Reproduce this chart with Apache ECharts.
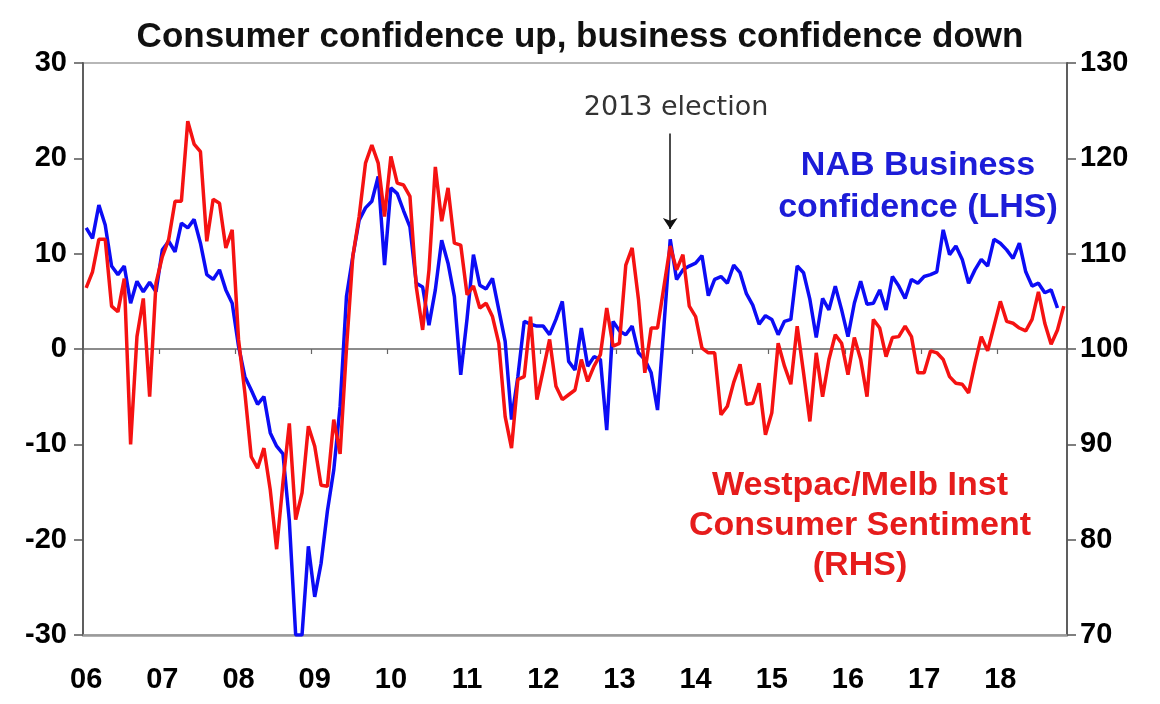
<!DOCTYPE html>
<html>
<head>
<meta charset="utf-8">
<script src="https://cdn.jsdelivr.net/npm/echarts@6/dist/echarts.min.js"></script>
<style>
html,body{margin:0;padding:0;background:#ffffff;}
#chart{width:1160px;height:704px;}
</style>
</head>
<body>
<div id="chart"></div>
<script>
// ---- data (monthly, Jan 2006 onwards) ----
const yearLabels = ['06','07','08','09','10','11','12','13','14','15','16','17','18'];
const firstYear = 2006;
const monthCount = 155; // Jan 2006 .. Nov 2018

// NAB business confidence, net balance (LHS)
const nabBusiness = [
  12.7, 11.6, 15.1, 13.0, 8.7, 7.8, 8.7, 4.8, 7.1, 6.0, 7.0, 6.0,
  10.4, 11.3, 10.2, 13.2, 12.7, 13.6, 11.1, 7.8, 7.3, 8.3, 6.2, 4.8,
  0.3, -2.9, -4.3, -5.8, -5.0, -8.8, -10.2, -11.0, -18.0, -30.0, -30.0, -20.7,
  -26.0, -22.5, -17.0, -12.7, -6.0, 5.5, 9.7, 13.5, 14.8, 15.5, 18.1, 8.8,
  16.9, 16.3, 14.5, 12.8, 6.9, 6.5, 2.5, 6.2, 11.4, 9.0, 5.5, -2.7,
  3.2, 9.9, 6.7, 6.3, 7.4, 4.1, 0.8, -7.4, -2.9, 2.9, 2.6, 2.4,
  2.4, 1.5, 3.1, 5.0, -1.3, -2.2, 2.2, -1.8, -0.8, -1.1, -8.5, 2.9,
  1.9, 1.5, 2.4, -0.4, -1.1, -2.5, -6.4, 2.3, 11.5, 7.3, 8.3, 8.7,
  9.0, 9.8, 5.6, 7.3, 7.6, 6.9, 8.8, 8.0, 5.8, 4.6, 2.6, 3.5,
  3.1, 1.5, 2.9, 3.1, 8.7, 8.0, 5.2, 1.2, 5.3, 4.1, 6.6, 4.1,
  1.3, 4.8, 7.1, 4.7, 4.8, 6.2, 4.1, 7.6, 6.6, 5.3, 7.3, 6.9,
  7.6, 7.8, 8.1, 12.5, 9.9, 10.8, 9.4, 6.9, 8.3, 9.4, 8.7, 11.5,
  11.1, 10.4, 9.5, 11.1, 8.1, 6.6, 6.9, 5.9, 6.2, 4.3
];

// Westpac/Melbourne Institute consumer sentiment index (RHS)
const westpacSentiment = [
  106.4, 108.1, 111.5, 111.5, 104.5, 103.9, 107.4, 90.0, 101.3, 105.3, 95.0, 106.9,
  109.7, 111.5, 115.5, 115.5, 123.9, 121.5, 120.7, 111.3, 115.7, 115.3, 110.6, 112.5,
  101.0, 95.4, 88.7, 87.5, 89.6, 85.2, 79.0, 86.0, 92.2, 82.1, 84.9, 91.9,
  89.8, 85.7, 85.6, 92.6, 89.0, 100.0, 109.7, 113.9, 119.5, 121.4, 119.5, 113.9,
  120.2, 117.4, 117.2, 116.0, 106.5, 102.0, 108.3, 119.1, 113.4, 116.9, 111.1, 110.9,
  105.7, 106.6, 104.3, 104.8, 103.4, 100.6, 92.9, 89.6, 96.8, 97.1, 103.4, 94.7,
  97.8, 101.0, 96.1, 94.7, 95.2, 95.7, 98.9, 96.6, 98.2, 99.4, 104.3, 100.3,
  100.6, 108.8, 110.6, 105.2, 97.5, 102.2, 102.2, 106.5, 110.8, 108.3, 109.9, 104.5,
  103.4, 100.1, 99.6, 99.6, 93.1, 94.0, 96.5, 98.4, 94.2, 94.3, 96.4, 91.0,
  93.3, 100.6, 98.2, 96.3, 102.4, 97.5, 92.4, 99.6, 95.0, 98.9, 101.5, 100.6,
  97.3, 101.2, 98.9, 95.0, 103.1, 102.2, 99.2, 101.2, 101.3, 102.4, 101.3, 97.5,
  97.5, 99.8, 99.6, 98.9, 97.1, 96.4, 96.3, 95.4, 98.5, 101.3, 99.8, 102.4,
  105.0, 102.9, 102.7, 102.2, 101.9, 103.1, 106.0, 102.7, 100.5, 102.0, 104.5
];

const electionMonth = '2013-09';
const chartTitle = 'Consumer confidence up, business confidence down';

// ---- build categories ----
const months = [];
for (let i = 0; i < monthCount; i++) {
  const y = firstYear + Math.floor(i / 12);
  const m = (i % 12) + 1;
  months.push(y + '-' + (m < 10 ? '0' + m : '' + m));
}
const isJan = (i) => i % 12 === 0;

const SANS = "'Liberation Sans',Arial,sans-serif";
const BLUE = '#0c0cf5';
const RED = '#f51212';

const chart = echarts.init(document.getElementById('chart'), null, {renderer: 'canvas'});

const option = {
  animation: false,
  backgroundColor: '#ffffff',
  title: {
    text: chartTitle,
    left: 'center',
    top: 15,
    textStyle: {fontFamily: SANS, fontSize: 35, fontWeight: 'bold', color: '#111'}
  },
  grid: {
    left: 83, right: 93, top: 63, bottom: 69,
    show: true, borderColor: '#a0a0a0', borderWidth: 1.5, backgroundColor: 'transparent'
  },
  xAxis: [
    {
      type: 'category',
      data: months,
      boundaryGap: true,
      position: 'bottom',
      axisLine: {onZero: false, lineStyle: {color: '#9a9a9a', width: 2.5}},
      axisTick: {show: false},
      splitLine: {show: false},
      axisLabel: {
        interval: (i) => isJan(i),
        formatter: (v) => yearLabels[parseInt(v.slice(0, 4), 10) - firstYear],
        fontFamily: SANS, fontSize: 29, fontWeight: 'bold', color: '#000', margin: 30
      }
    },
    {
      type: 'category',
      data: months,
      boundaryGap: true,
      position: 'bottom',
      axisLine: {onZero: true, onZeroAxisIndex: 0, lineStyle: {color: '#666', width: 1.5}},
      axisTick: {show: true, interval: (i) => isJan(i), length: 5, lineStyle: {color: '#666', width: 1.2}},
      axisLabel: {show: false},
      splitLine: {show: false}
    }
  ],
  yAxis: [
    {
      type: 'value', min: -30, max: 30, interval: 10, position: 'left',
      axisLine: {show: true, lineStyle: {color: '#555', width: 1.8}},
      axisTick: {show: true, length: 9, lineStyle: {color: '#555', width: 1.5}},
      splitLine: {show: false},
      axisLabel: {fontFamily: SANS, fontSize: 29, fontWeight: 'bold', color: '#000', margin: 16}
    },
    {
      type: 'value', min: 70, max: 130, interval: 10, position: 'right',
      axisLine: {show: true, lineStyle: {color: '#555', width: 1.8}},
      axisTick: {show: true, length: 9, lineStyle: {color: '#555', width: 1.5}},
      splitLine: {show: false},
      axisLabel: {fontFamily: SANS, fontSize: 29, fontWeight: 'bold', color: '#000', margin: 13}
    }
  ],
  series: [
    {
      name: 'NAB Business confidence (LHS)',
      type: 'line',
      xAxisIndex: 0, yAxisIndex: 0,
      data: nabBusiness,
      showSymbol: false,
      symbol: 'none',
      lineStyle: {color: BLUE, width: 3.5},
      z: 3,
      markLine: {
        silent: true,
        symbol: ['none', 'arrow'],
        symbolSize: 11,
        label: {show: false},
        lineStyle: {color: '#111', width: 1.5, type: 'solid'},
        data: [[{coord: [electionMonth, 22.6]}, {coord: [electionMonth, 12.6]}]]
      }
    },
    {
      name: 'Westpac/Melb Inst Consumer Sentiment (RHS)',
      type: 'line',
      xAxisIndex: 0, yAxisIndex: 1,
      data: westpacSentiment,
      showSymbol: false,
      symbol: 'none',
      lineStyle: {color: RED, width: 3.5},
      z: 4
    }
  ],
  graphic: [
    {
      type: 'text', x: 676, y: 94, z: 10,
      style: {text: '2013 election', fill: '#333', font: "27px 'DejaVu Sans',sans-serif", textAlign: 'center', textVerticalAlign: 'top'}
    },
    {
      type: 'text', x: 918, y: 145, z: 10,
      style: {text: 'NAB Business\nconfidence (LHS)', fill: '#1c1cd8', font: "bold 34px " + SANS, textAlign: 'center', textVerticalAlign: 'top', lineHeight: 42}
    },
    {
      type: 'text', x: 860, y: 466, z: 10,
      style: {text: 'Westpac/Melb Inst\nConsumer Sentiment\n(RHS)', fill: '#e61c1c', font: "bold 34px " + SANS, textAlign: 'center', textVerticalAlign: 'top', lineHeight: 40}
    }
  ]
};

chart.setOption(option);
</script>
</body>
</html>
